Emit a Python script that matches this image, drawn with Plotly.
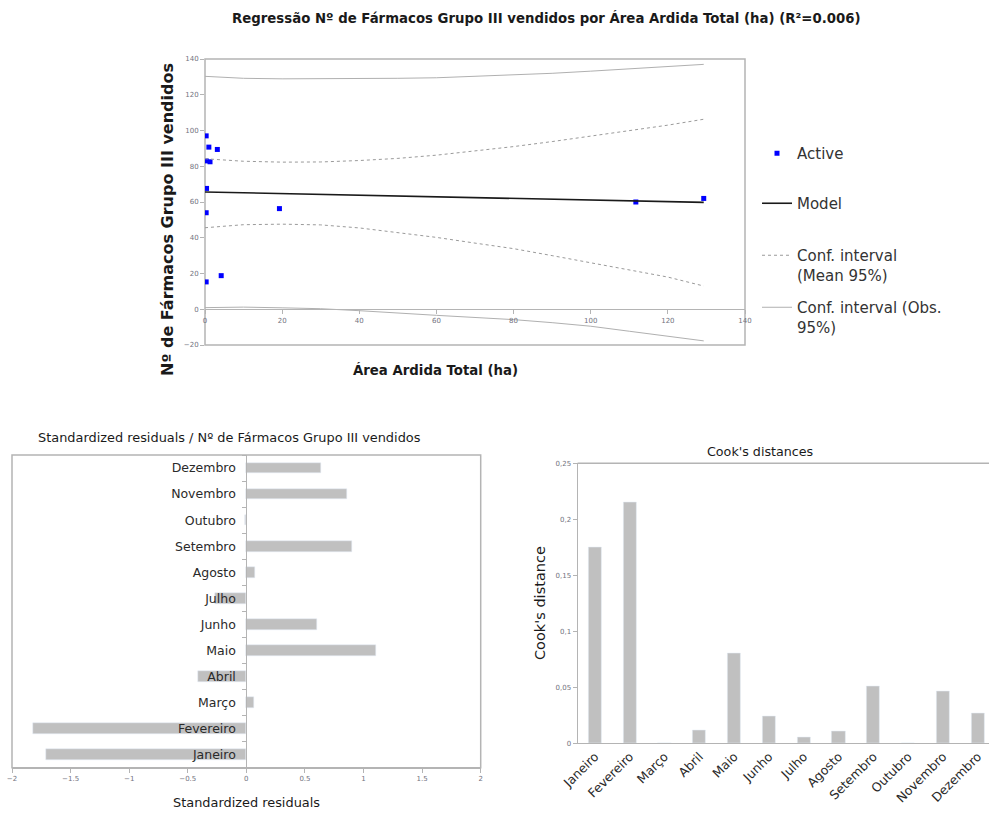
import plotly.graph_objects as go

# ---------------- Data: regression scatter ----------------
area_x = [0.3, 1.0, 3.2, 0.3, 1.3, 0.4, 0.3, 19.3, 0.3, 4.2, 111.7, 129.3]
farm_y = [97.0, 90.7, 89.4, 83.0, 82.5, 67.6, 54.0, 56.3, 15.3, 18.8, 60.0, 62.0]

model_x = [0, 129.3]
model_y = [65.6, 59.8]

band_x = [0, 10, 20, 30, 40, 50, 60, 70, 80, 90, 100, 110, 120, 129.3]
mean_upper = [84.2, 82.8, 82.3, 82.4, 83.2, 84.4, 86.2, 88.5, 91.0, 93.8, 96.8, 99.9, 103.0, 106.3]
mean_lower = [45.6, 47.3, 47.6, 47.2, 45.5, 42.8, 40.2, 37.0, 33.9, 30.0, 26.0, 22.0, 18.0, 13.0]
obs_upper = [130.3, 129.2, 128.9, 128.9, 129.0, 129.2, 129.5, 130.2, 131.0, 132.0, 133.2, 134.6, 136.0, 137.0]
obs_lower = [0.9, 1.2, 0.8, 0.3, -0.8, -2.3, -3.4, -4.6, -5.8, -7.5, -9.5, -12.3, -15.0, -17.7]

# ---------------- Data: residuals & Cook's ----------------
months = ["Janeiro", "Fevereiro", "Março", "Abril", "Maio", "Junho",
          "Julho", "Agosto", "Setembro", "Outubro", "Novembro", "Dezembro"]
std_resid = [-1.706, -1.825, 0.063, -0.41, 1.106, 0.60, -0.27, 0.077, 0.898, -0.012, 0.86, 0.633]
cooks_d = [0.1747, 0.2152, 0.0003, 0.0113, 0.0806, 0.0238, 0.005, 0.0104, 0.0512, 0.0002, 0.046, 0.0268]

top_x_ticks = [0, 20, 40, 60, 80, 100, 120, 140]
top_y_ticks = [-20, 0, 20, 40, 60, 80, 100, 120, 140]
resid_ticks = [-2, -1.5, -1, -0.5, 0, 0.5, 1, 1.5, 2]
cook_tickvals = [0, 0.05, 0.1, 0.15, 0.2, 0.25]
cook_ticktext = ["0", "0,05", "0,1", "0,15", "0,2", "0,25"]

W, H = 989, 816
FONT = "DejaVu Sans"
GRID = "#b4b4b4"
TICKC = "#72727e"
BAR = "#c0c0c0"
DARK = "#1a1a1a"


def fx(px):
    return px / W


def fy(py):
    return 1 - py / H


fig = go.Figure()

# ---- top chart traces ----
fig.add_trace(go.Scatter(x=area_x, y=farm_y, mode="markers", name="Active",
                         marker=dict(color="#0000ff", size=5, symbol="square"),
                         xaxis="x", yaxis="y", legend="legend"))
fig.add_trace(go.Scatter(x=model_x, y=model_y, mode="lines", name="Model",
                         line=dict(color=DARK, width=1.6),
                         xaxis="x", yaxis="y", legend="legend2"))
fig.add_trace(go.Scatter(x=band_x, y=mean_upper, mode="lines",
                         name="Conf. interval<br>(Mean 95%)", legendgroup="c",
                         line=dict(color="#9a9a9a", width=1, dash="dot"),
                         xaxis="x", yaxis="y", legend="legend3"))
fig.add_trace(go.Scatter(x=band_x, y=mean_lower, mode="lines", showlegend=False,
                         line=dict(color="#9a9a9a", width=1, dash="dot"), legendgroup="c",
                         xaxis="x", yaxis="y", legend="legend3"))
fig.add_trace(go.Scatter(x=band_x, y=obs_upper, mode="lines",
                         name="Conf. interval (Obs.<br>95%)", legendgroup="d",
                         line=dict(color="#b0b0b0", width=1),
                         xaxis="x", yaxis="y", legend="legend4"))
fig.add_trace(go.Scatter(x=band_x, y=obs_lower, mode="lines", showlegend=False,
                         line=dict(color="#b0b0b0", width=1), legendgroup="d",
                         xaxis="x", yaxis="y", legend="legend4"))

# ---- residual bars ----
fig.add_trace(go.Bar(x=std_resid, y=months, orientation="h", marker_color=BAR,
                     width=0.41, showlegend=False, xaxis="x2", yaxis="y2"))

# ---- Cook's bars ----
fig.add_trace(go.Bar(x=months, y=cooks_d, marker_color=BAR, width=0.38,
                     showlegend=False, xaxis="x3", yaxis="y3"))

# domains
top_dx = [fx(205), fx(745)]
top_dy = [fy(345), fy(59)]
res_dx = [fx(12), fx(480.7)]
res_dy = [fy(767.7), fy(455)]
cook_dx = [fx(577.6), 1.0]
cook_dy = [fy(743.3), fy(463.3)]

top_xpos = top_dy[0] + (20 / 160) * (top_dy[1] - top_dy[0])
res_ypos = res_dx[0] + 0.5 * (res_dx[1] - res_dx[0])

tickfont_small = dict(family=FONT, size=7, color=TICKC)
leg_font = dict(family=FONT, size=15, color="#333333")


def legend_at(top_px):
    return dict(x=fx(757), y=fy(top_px), xanchor="left", yanchor="top",
                font=leg_font, valign="top", bgcolor="rgba(0,0,0,0)")


def ann(text, xp, yp, size, angle=0, color=DARK):
    return dict(text=text, x=fx(xp), y=fy(yp), xref="paper", yref="paper",
                xanchor="center", yanchor="middle", showarrow=False, textangle=angle,
                font=dict(family=FONT, size=size, color=color))


fig.update_layout(
    width=W, height=H,
    margin=dict(l=0, r=0, t=0, b=0, autoexpand=False),
    paper_bgcolor="white", plot_bgcolor="rgba(0,0,0,0)",
    font=dict(family=FONT, color="#333333"),
    bargap=0,
    xaxis=dict(domain=top_dx, range=[0, 140], anchor="free", position=top_xpos,
               tickvals=top_x_ticks, ticks="outside", ticklen=4, tickcolor=GRID,
               showline=True, linecolor=GRID, linewidth=1, showgrid=False,
               zeroline=False, tickfont=tickfont_small, automargin=False),
    yaxis=dict(domain=top_dy, range=[-20, 140], anchor="x", tickvals=top_y_ticks,
               ticks="outside", ticklen=4, tickcolor=GRID, showline=False,
               showgrid=False, zeroline=False, tickfont=tickfont_small,
               automargin=False),
    xaxis2=dict(domain=res_dx, range=[-2, 2], anchor="y2", tickvals=resid_ticks,
                ticks="outside", ticklen=4, tickcolor=GRID, showline=True,
                linecolor=GRID, showgrid=False, zeroline=False,
                tickfont=tickfont_small, automargin=False),
    yaxis2=dict(domain=res_dy, anchor="free", position=res_ypos,
                categoryorder="array", categoryarray=months, range=[-0.5, 11.5],
                ticks="outside", ticklen=4, tickcolor=GRID, tickson="boundaries",
                showline=True, linecolor=GRID, showgrid=False, zeroline=False,
                ticklabelstandoff=8, automargin=False,
                tickfont=dict(family=FONT, size=12.5, color="#2a2a2a")),
    xaxis3=dict(domain=cook_dx, anchor="y3", categoryorder="array",
                categoryarray=months, range=[-0.5, 11.32], tickangle=-45,
                ticks="", showline=True, linecolor=GRID, showgrid=False,
                zeroline=False, automargin=False,
                tickfont=dict(family=FONT, size=12.5, color="#2a2a2a")),
    yaxis3=dict(domain=cook_dy, anchor="x3", range=[0, 0.25],
                tickvals=cook_tickvals, ticktext=cook_ticktext,
                ticks="outside", ticklen=4, tickcolor=GRID, showline=True,
                linecolor=GRID, showgrid=False, zeroline=False,
                tickfont=tickfont_small, automargin=False),
    legend=legend_at(137),
    legend2=legend_at(187),
    legend3=legend_at(239),
    legend4=legend_at(291),
    shapes=[
        dict(type="rect", xref="x domain", yref="y domain", x0=0, x1=1, y0=0, y1=1,
             line=dict(color=GRID, width=1.5), layer="below"),
        dict(type="rect", xref="x2 domain", yref="y2 domain", x0=0, x1=1, y0=0, y1=1,
             line=dict(color=GRID, width=1.5), layer="below"),
        dict(type="line", xref="paper", yref="paper", x0=cook_dx[0], x1=1,
             y0=cook_dy[1], y1=cook_dy[1], line=dict(color=GRID, width=1.5)),
    ],
    annotations=[
        ann("<b>Regressão Nº de Fármacos Grupo III vendidos por Área Ardida Total (ha) (R²=0.006)</b>",
            546, 18, 13.3),
        ann("<b>Nº de Fármacos Grupo III vendidos</b>", 168, 220, 16, angle=-90),
        ann("<b>Área Ardida Total (ha)</b>", 435, 370, 13.3),
        ann("Standardized residuals / Nº de Fármacos Grupo III vendidos", 229.5, 437, 12.9),
        ann("Standardized residuals", 246, 802, 12.9),
        ann("Cook's distances", 760, 451, 12.7),
        ann("Cook's distance", 540, 603, 14.5, angle=-90),
    ],
)

fig.write_html("out.html", config={"displayModeBar": False},
               post_script="document.body.style.margin='0';")
